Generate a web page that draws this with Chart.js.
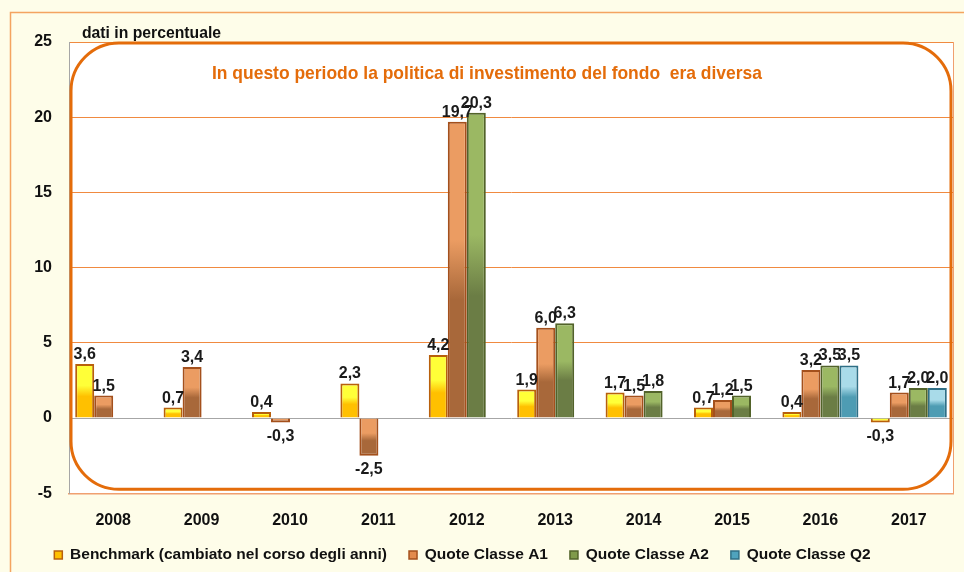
<!DOCTYPE html>
<html lang="it">
<head>
    <meta charset="UTF-8">
    <title>Rendimenti annuali</title>
    <script src="https://cdn.jsdelivr.net/npm/chart.js"></script>
    <style>
        html, body { margin: 0; padding: 0; background: #fefde9; }
        #wrap { width: 964px; height: 572px; }
    </style>
</head>
<body>
<div id="wrap"><canvas id="rendChart" width="964" height="572"></canvas></div>
<script>
    var anni = ['2008', '2009', '2010', '2011', '2012', '2013', '2014', '2015', '2016', '2017'];
    var benchmark = [3.6, 0.7, 0.4, 2.3, 4.2, 1.9, 1.7, 0.7, 0.4, -0.3];
    var classeA1 = [1.5, 3.4, -0.3, -2.5, 19.7, 6.0, 1.5, 1.2, 3.2, 1.7];
    var classeA2 = [null, null, null, null, 20.3, 6.3, 1.8, 1.5, 3.5, 2.0];
    var classeQ2 = [null, null, null, null, null, null, null, null, 3.5, 2.0];

    var FONT = "'Liberation Sans', Arial, sans-serif";
    var ORANGE = '#e46c0a';

    // gradient per bar: light at the top, darker further down
    function barFill(light, dark) {
        return function(ctx) {
            var chart = ctx.chart;
            if (!chart.chartArea || ctx.raw == null) return dark;
            var y = chart.scales.y;
            var p0 = y.getPixelForValue(0), p1 = y.getPixelForValue(ctx.raw);
            var g = chart.ctx.createLinearGradient(0, Math.min(p0, p1), 0, Math.max(p0, p1) + 0.01);
            g.addColorStop(0, light);
            g.addColorStop(0.4, light);
            g.addColorStop(0.6, dark);
            g.addColorStop(1, dark);
            return g;
        };
    }

    // text squeezed to a given width (the original uses a narrow face)
    function narrowText(c, txt, x, y, width) {
        var w = c.measureText(txt).width;
        var k = Math.min(1, width / w);
        c.save();
        c.translate(x, y);
        c.scale(k, 1);
        c.fillText(txt, 0, 0);
        c.restore();
    }

    var sfondo = {
        id: 'sfondo',
        afterLayout: function(chart) {
            // legend: a bit left of centre, text row at y ~553
            var lg = chart.legend;
            var h = lg.height;
            lg.left -= 19; lg.right -= 19;
            lg.top = 555 - 22 - 7.75;
            lg.bottom = lg.top + h;
        },
        beforeDraw: function(chart) {
            var c = chart.ctx, a = chart.chartArea;
            c.save();
            c.fillStyle = '#fefde9';
            c.fillRect(0, 0, chart.width, chart.height);
            c.strokeStyle = '#f4a460';
            c.lineWidth = 1.5;
            c.strokeRect(10.5, 12.5, chart.width + 20, chart.height + 20);
            c.fillStyle = '#ffffff';
            c.fillRect(a.left, a.top, a.right - a.left, a.bottom - a.top);
            c.restore();
        },
        afterDraw: function(chart) {
            var c = chart.ctx, a = chart.chartArea;
            c.save();
            // right border of plot area
            c.strokeStyle = '#f0a070';
            c.lineWidth = 1;
            c.beginPath();
            c.moveTo(a.right + 0.5, a.top);
            c.lineTo(a.right + 0.5, a.bottom);
            c.stroke();
            // rounded frame
            var l = a.left + 2, t = a.top + 1, r = a.right - 2, b = a.bottom - 4, rad = 48;
            c.strokeStyle = ORANGE;
            c.lineWidth = 3;
            c.beginPath();
            c.moveTo(l + rad, t);
            c.lineTo(r - rad, t);
            c.arcTo(r, t, r, t + rad, rad);
            c.lineTo(r, b - rad);
            c.arcTo(r, b, r - rad, b, rad);
            c.lineTo(l + rad, b);
            c.arcTo(l, b, l, b - rad, rad);
            c.lineTo(l, t + rad);
            c.arcTo(l, t, l + rad, t, rad);
            c.stroke();
            // texts
            c.fillStyle = ORANGE;
            c.font = 'bold 19px ' + FONT;
            c.textAlign = 'center';
            c.textBaseline = 'alphabetic';
            narrowText(c, 'In questo periodo la politica di investimento del fondo  era diversa', 487, a.top + 37, 550);
            c.fillStyle = '#111111';
            c.font = 'bold 16px ' + FONT;
            c.textAlign = 'left';
            narrowText(c, 'dati in percentuale', a.left + 13, a.top - 4, 139);
            c.restore();
        }
    };

    var etichette = {
        id: 'etichette',
        afterDatasetsDraw: function(chart) {
            var c = chart.ctx;
            c.save();
            c.font = 'bold 16px ' + FONT;
            c.fillStyle = '#1a1a1a';
            c.textAlign = 'center';
            chart.data.datasets.forEach(function(ds, i) {
                var meta = chart.getDatasetMeta(i);
                meta.data.forEach(function(el, j) {
                    var v = ds.data[j];
                    if (v == null) return;
                    var txt = v.toFixed(1).replace('.', ',');
                    if (v >= 0) {
                        c.textBaseline = 'alphabetic';
                        c.fillText(txt, el.x, el.y - 5);
                    } else {
                        c.textBaseline = 'top';
                        c.fillText(txt, el.x, el.y + 6);
                    }
                });
            });
            c.restore();
        }
    };

    var legendColors = ['#ffc000', '#e38b4d', '#7f9a4a', '#4fa3bd'];

    new Chart(document.getElementById('rendChart'), {
        type: 'bar',
        data: {
            labels: anni,
            datasets: [{
                label: 'Benchmark (cambiato nel corso degli anni)',
                data: benchmark,
                backgroundColor: barFill('#ffff38', '#ffc000'),
                borderColor: '#b8600c',
                borderWidth: 2
            }, {
                label: 'Quote Classe A1',
                data: classeA1,
                backgroundColor: barFill('#eb9c62', '#a8683a'),
                borderColor: '#a4501c',
                borderWidth: 2
            }, {
                label: 'Quote Classe A2',
                data: classeA2,
                backgroundColor: barFill('#9bb863', '#6b7d45'),
                borderColor: '#52632a',
                borderWidth: 2
            }, {
                label: 'Quote Classe Q2',
                data: classeQ2,
                backgroundColor: barFill('#a9dbe9', '#4e9cb3'),
                borderColor: '#2f6f86',
                borderWidth: 2
            }]
        },
        options: {
            responsive: false,
            animation: false,
            layout: { padding: { left: 10, right: 11, top: 42, bottom: -16 } },
            datasets: { bar: { categoryPercentage: 0.86, barPercentage: 1.0 } },
            scales: {
                x: {
                    grid: { display: false },
                    border: { color: '#f0a070', width: 1.5 },
                    ticks: { color: '#111', padding: 10, font: { family: FONT, size: 16, weight: 'bold' } }
                },
                y: {
                    min: -5,
                    max: 25,
                    afterFit: function(scale) { scale.width = 59; },
                    grid: {
                        drawTicks: false,
                        color: function(ctx) { return ctx.tick && ctx.tick.value === 0 ? '#a6a6a6' : '#f08a40'; },
                        lineWidth: 1
                    },
                    border: { color: '#a6a6a6' },
                    ticks: { stepSize: 5, color: '#111', padding: 17, font: { family: FONT, size: 16, weight: 'bold' } }
                }
            },
            plugins: {
                tooltip: { enabled: false },
                legend: {
                    position: 'bottom',
                    labels: {
                        boxWidth: 8,
                        boxHeight: 8,
                        padding: 22,
                        color: '#111',
                        font: { family: FONT, size: 15.5, weight: 'bold' },
                        generateLabels: function(chart) {
                            return chart.data.datasets.map(function(ds, i) {
                                return {
                                    text: ds.label,
                                    fillStyle: legendColors[i],
                                    strokeStyle: ds.borderColor,
                                    lineWidth: 1.5,
                                    datasetIndex: i,
                                    fontColor: '#111'
                                };
                            });
                        }
                    }
                }
            }
        },
        plugins: [sfondo, etichette]
    });
</script>
</body>
</html>
